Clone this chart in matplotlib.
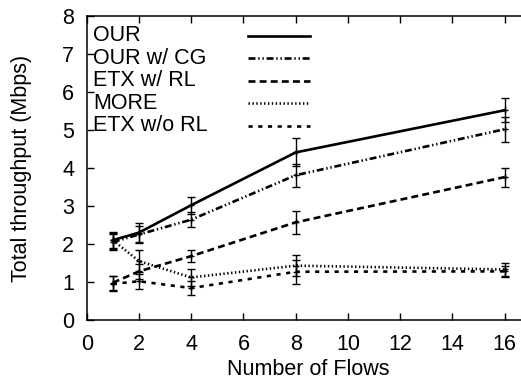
import numpy as np
import matplotlib.pyplot as plt

plt.rcParams['font.family'] = ['Liberation Sans', 'DejaVu Sans']
plt.rcParams['font.size'] = 15.5
plt.rcParams['lines.scale_dashes'] = False

# throughput per number of concurrent flows
flows = [1, 2, 4, 8, 16]
labels = ["OUR", "OUR w/ CG", "ETX w/ RL", "MORE", "ETX w/o RL"]
our = [2.10, 2.30, 3.02, 4.41, 5.52]
our_err = [0.22, 0.25, 0.22, 0.37, 0.31]
our_cg = [2.05, 2.25, 2.64, 3.81, 5.02]
our_cg_err = [0.20, 0.22, 0.20, 0.30, 0.33]
etx_rl = [0.98, 1.28, 1.68, 2.57, 3.76]
etx_rl_err = [0.18, 0.20, 0.16, 0.31, 0.25]
more = [2.10, 1.55, 1.12, 1.43, 1.33]
more_err = [0.20, 0.30, 0.22, 0.27, 0.18]
etx_norl = [0.95, 1.02, 0.84, 1.27, 1.28]
etx_norl_err = [0.20, 0.20, 0.19, 0.31, 0.15]

series = [our, our_cg, etx_rl, more, etx_norl]
errors = [our_err, our_cg_err, etx_rl_err, more_err, etx_norl_err]
dashes = [None, (5, 2, 1, 2, 1, 2), (5, 3), (1, 1.8), (3, 4)]

fig = plt.figure(figsize=(5.21, 3.91), dpi=100)
ax = fig.add_axes([0.1664, 0.1816, 0.8524, 0.7775])

for i in range(len(series)):
    line, = ax.plot(flows, series[i], color='black', lw=1.9)
    if dashes[i] is not None:
        line.set_dashes(dashes[i])
    ax.errorbar(flows, series[i], yerr=errors[i], fmt='none', ecolor='black',
                elinewidth=1.0, capsize=3, capthick=1.0)
    ax.plot(flows, series[i], ls='none', marker='+', ms=4, mew=1.0, color='black')

    # key entries: text on the left, line sample on the right
    ky = (320 - (36 + 22.4 * i)) / 304
    ax.text(0.014, ky, labels[i], transform=ax.transAxes, ha='left', va='center')
    key, = ax.plot([0.363, 0.503], [ky, ky], transform=ax.transAxes,
                   color='black', lw=1.9, clip_on=False)
    if dashes[i] is not None:
        key.set_dashes(dashes[i])

ax.set_xlim(0, 17)
ax.set_ylim(0, 8)
ax.set_xticks(np.arange(0, 17, 2))
ax.set_yticks(np.arange(0, 9, 1))
ax.tick_params(direction='in', top=True, right=True, length=5, width=1)
ax.tick_params(axis='x', pad=10)
ax.tick_params(axis='y', pad=9)
for s in ax.spines.values():
    s.set_linewidth(1.1)

ax.set_xlabel("Number of Flows", va='center')
ax.set_ylabel("Total throughput (Mbps)", va='center')
ax.xaxis.set_label_coords(0.5, -0.164)
ax.yaxis.set_label_coords(-0.146, 0.5)

fig.savefig("out.png", dpi=100)
